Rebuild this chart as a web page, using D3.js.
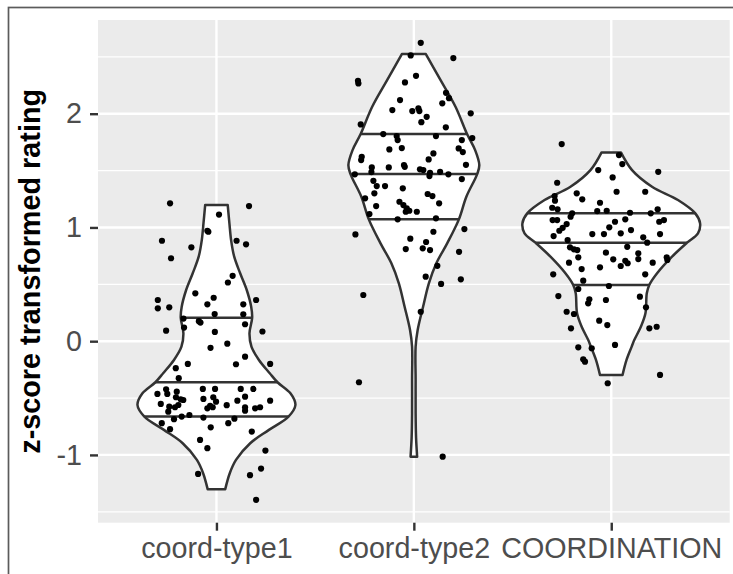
<!DOCTYPE html>
<html>
<head>
<meta charset="utf-8">
<script src="https://cdn.jsdelivr.net/npm/d3@7"></script>
<style>
  html, body { margin: 0; padding: 0; background: #ffffff; }
  svg { display: block; }
</style>
</head>
<body>
<svg id="chart" width="733" height="574"></svg>
<script>
// ---- data ----
const categories = ["coord-type1", "coord-type2", "COORDINATION"];
const yTickValues = [-1, 0, 1, 2];
const yMinorValues = [-1.5, -0.5, 0.5, 1.5, 2.5];
const yTitle = "z-score transformed rating";

// quantiles drawn across each violin (25%, 50%, 75%)
const quantilesType1 = [-0.663, -0.361, 0.207];
const quantilesType2 = [1.071, 1.469, 1.821];
const quantilesCoord = [0.494, 0.866, 1.124];

// violin density profiles: [rating, relative width (1 = widest violin)]
const densityType1 = [
  [-1.301, 0.099], [-1.161, 0.150], [-1.044, 0.220], [-0.897, 0.380],
  [-0.780, 0.591], [-0.663, 0.811], [-0.561, 0.889], [-0.458, 0.833],
  [-0.361, 0.687], [-0.282, 0.600], [-0.165, 0.478], [-0.048, 0.394],
  [0.069, 0.372], [0.207, 0.402], [0.303, 0.391], [0.450, 0.341],
  [0.597, 0.267], [0.743, 0.200], [0.889, 0.165], [1.036, 0.146],
  [1.197, 0.127]
];
const densityType2 = [
  [-1.015, 0.037], [-0.850, 0.025], [-0.634, 0.020], [-0.341, 0.020],
  [-0.048, 0.020], [0.098, 0.043], [0.303, 0.104], [0.509, 0.169],
  [0.685, 0.253], [0.860, 0.375], [1.071, 0.507], [1.270, 0.591],
  [1.469, 0.713], [1.548, 0.737], [1.680, 0.690], [1.821, 0.599],
  [2.061, 0.469], [2.295, 0.301], [2.524, 0.135]
];
const densityCoord = [
  [-0.297, 0.127], [-0.165, 0.172], [-0.048, 0.230], [0.010, 0.259],
  [0.127, 0.333], [0.245, 0.385], [0.421, 0.400], [0.494, 0.428],
  [0.597, 0.516], [0.743, 0.684], [0.866, 0.853], [0.948, 0.976],
  [1.036, 1.000], [1.124, 0.946], [1.241, 0.751], [1.358, 0.459],
  [1.504, 0.234], [1.660, 0.109]
];

// jittered observations: [horizontal jitter (category units), rating]
const pointsType1 = [
  [-0.235, 1.212], [0.165, 1.188], [0.013, 1.113], [-0.046, 0.971], [-0.041, 0.962],
  [-0.276, 0.883], [0.102, 0.883], [0.150, 0.852], [-0.127, 0.825], [-0.230, 0.729],
  [0.082, 0.575], [0.058, 0.516], [-0.107, 0.421], [-0.014, 0.382], [0.201, 0.362],
  [-0.297, 0.362], [-0.046, 0.324], [-0.239, 0.298], [-0.297, 0.289], [0.136, 0.324],
  [-0.009, 0.239], [0.136, 0.237], [-0.167, 0.199], [-0.164, 0.120], [-0.089, 0.176],
  [-0.081, 0.164], [0.145, 0.149], [-0.255, 0.092], [-0.008, 0.081], [0.233, 0.085],
  [0.055, -0.022], [-0.030, -0.058], [0.145, -0.136], [-0.145, -0.200], [0.099, -0.203],
  [0.272, -0.200], [-0.206, -0.237], [-0.191, -0.325],
  [-0.299, -0.464], [-0.255, -0.423], [-0.249, -0.464], [-0.201, -0.444], [-0.205, -0.493],
  [-0.181, -0.511], [-0.168, -0.517], [-0.282, -0.552], [-0.239, -0.576], [-0.210, -0.581],
  [-0.193, -0.561], [-0.244, -0.620], [-0.069, -0.420], [-0.007, -0.420], [-0.066, -0.508],
  [-0.016, -0.493], [-0.002, -0.532], [-0.032, -0.569], [-0.046, -0.590], [-0.019, -0.581],
  [0.052, -0.563], [0.123, -0.420], [0.187, -0.420], [0.145, -0.488], [0.106, -0.523],
  [0.145, -0.581], [0.145, -0.611], [0.196, -0.590], [0.221, -0.581], [0.272, -0.523],
  [-0.137, -0.649], [-0.176, -0.663],
  [-0.277, -0.721], [-0.215, -0.686], [-0.235, -0.774], [-0.066, -0.672], [-0.029, -0.757],
  [0.060, -0.721], [0.091, -0.681], [0.179, -0.795], [-0.083, -0.868], [-0.046, -0.941],
  [0.248, -0.962], [0.226, -1.120], [0.170, -1.178], [-0.093, -1.167], [0.201, -1.395]
];
const pointsType2 = [
  [0.035, 2.623], [-0.016, 2.512], [0.200, 2.489], [-0.283, 2.289], [-0.281, 2.266],
  [-0.045, 2.275], [0.011, 2.333], [0.163, 2.184], [0.178, 2.137], [-0.070, 2.120],
  [-0.109, 2.032], [-0.008, 2.023], [0.023, 2.047], [0.028, 2.023], [0.065, 1.973],
  [0.038, 1.926], [0.144, 2.091], [0.288, 2.003], [-0.269, 1.906], [0.162, 1.880],
  [-0.155, 1.821], [-0.087, 1.803], [-0.082, 1.768], [0.112, 1.803], [0.243, 1.768],
  [0.296, 1.786], [-0.124, 1.686], [-0.061, 1.698], [0.227, 1.695], [0.248, 1.663],
  [-0.264, 1.621], [-0.267, 1.592], [0.099, 1.651], [0.075, 1.598], [0.264, 1.551],
  [-0.050, 1.548], [-0.046, 1.533], [-0.213, 1.528], [-0.127, 1.528], [0.031, 1.511],
  [0.048, 1.504], [0.082, 1.481], [0.133, 1.489], [-0.299, 1.467], [-0.215, 1.487],
  [0.079, 1.452], [0.175, 1.467], [0.243, 1.425], [-0.205, 1.410], [-0.188, 1.364],
  [-0.146, 1.364], [-0.200, 1.300], [-0.056, 1.344], [-0.247, 1.256], [-0.191, 1.188],
  [0.070, 1.294], [0.094, 1.276], [0.128, 1.212], [-0.073, 1.226], [-0.053, 1.197],
  [-0.036, 1.168], [-0.023, 1.147], [-0.041, 1.138], [0.015, 1.138], [-0.225, 1.118],
  [-0.082, 1.071], [0.112, 1.080], [-0.296, 0.939], [0.256, 0.986], [0.099, 0.962],
  [-0.018, 0.901], [0.062, 0.872], [-0.041, 0.810], [0.045, 0.816], [0.082, 0.801],
  [0.229, 0.786], [0.119, 0.663], [0.060, 0.567], [0.138, 0.503], [0.238, 0.544],
  [-0.256, 0.406], [0.035, 0.259], [-0.278, -0.361], [0.146, -1.015]
];
const pointsCoord = [
  [-0.251, 1.733], [0.039, 1.636], [0.056, 1.557], [-0.066, 1.504], [0.238, 1.489],
  [0.007, 1.440], [-0.274, 1.393], [0.027, 1.314], [0.172, 1.314], [-0.175, 1.300],
  [-0.287, 1.276], [-0.285, 1.235], [-0.147, 1.247], [-0.057, 1.217], [-0.299, 1.173],
  [-0.272, 1.159], [-0.071, 1.144], [-0.023, 1.147], [-0.198, 1.124], [-0.206, 1.094],
  [0.095, 1.129], [0.200, 1.124], [0.235, 1.159], [-0.297, 1.065], [-0.274, 1.065],
  [-0.226, 1.030], [-0.246, 0.997], [-0.263, 0.971], [-0.292, 0.924], [-0.096, 0.942],
  [-0.037, 0.942], [-0.010, 1.001], [0.019, 1.050], [0.071, 1.071], [0.048, 0.948],
  [0.100, 0.977], [0.162, 0.913], [0.182, 0.866], [0.243, 1.050], [0.267, 1.065],
  [0.247, 0.942], [-0.221, 0.889], [-0.209, 0.825], [-0.189, 0.808], [-0.172, 0.801],
  [-0.167, 0.737], [-0.214, 0.690], [-0.027, 0.778], [0.010, 0.720], [0.081, 0.830],
  [0.071, 0.707], [0.048, 0.661], [0.083, 0.685], [0.137, 0.772], [0.137, 0.722],
  [0.210, 0.690], [0.281, 0.737], [0.284, 0.714], [-0.057, 0.649], [-0.150, 0.634],
  [-0.294, 0.588], [-0.142, 0.532], [0.172, 0.588], [-0.167, 0.459], [-0.012, 0.485],
  [-0.268, 0.397], [-0.111, 0.368], [-0.117, 0.333], [-0.027, 0.362], [0.145, 0.391],
  [0.176, 0.298], [-0.226, 0.259], [-0.189, 0.239], [-0.061, 0.180], [-0.020, 0.142],
  [-0.204, 0.113], [0.193, 0.113], [0.230, 0.127], [-0.167, -0.054], [-0.099, -0.062],
  [0.019, -0.033], [-0.142, -0.159], [-0.133, -0.180], [0.247, -0.297], [-0.018, -0.370]
];

const groups = [
  { name: categories[0], density: densityType1, quantiles: quantilesType1, points: pointsType1 },
  { name: categories[1], density: densityType2, quantiles: quantilesType2, points: pointsType2 },
  { name: categories[2], density: densityCoord, quantiles: quantilesCoord, points: pointsCoord }
];

// ---- layout ----
const panel = { left: 98, right: 729.7, top: 20, bottom: 522.7 };
const svg = d3.select("#chart");
const font = "'Liberation Sans', Arial, Helvetica, sans-serif";

// outer frame line
svg.append("rect")
  .attr("x", 8.5).attr("y", 7.5).attr("width", 800).attr("height", 800)
  .attr("fill", "none").attr("stroke", "#5b5b5b").attr("stroke-width", 1.7);

// continuous y scale with 5% expansion around the data
const allValues = groups.flatMap(g => g.points.map(p => p[1]).concat(g.density.map(d => d[0])));
const [vMin, vMax] = d3.extent(allValues);
const pad = (vMax - vMin) * 0.05;
const y = d3.scaleLinear().domain([vMin - pad, vMax + pad]).range([panel.bottom, panel.top]);

// discrete x scale with 0.6 units of space on each side
const x = d3.scalePoint().domain(categories).range([panel.left, panel.right]).padding(0.6);
const step = x.step();
const maxHalfWidth = 0.45 * step;

// panel background and grid
svg.append("rect")
  .attr("x", panel.left).attr("y", panel.top)
  .attr("width", panel.right - panel.left).attr("height", panel.bottom - panel.top)
  .attr("fill", "#ebebeb");

const grid = svg.append("g");
grid.selectAll(".minor").data(yMinorValues).join("line")
  .attr("x1", panel.left).attr("x2", panel.right)
  .attr("y1", d => y(d)).attr("y2", d => y(d))
  .attr("stroke", "#ffffff").attr("stroke-width", 1.2);
grid.selectAll(".major").data(yTickValues).join("line")
  .attr("x1", panel.left).attr("x2", panel.right)
  .attr("y1", d => y(d)).attr("y2", d => y(d))
  .attr("stroke", "#ffffff").attr("stroke-width", 2.4);
grid.selectAll(".vmajor").data(categories).join("line")
  .attr("x1", d => x(d)).attr("x2", d => x(d))
  .attr("y1", panel.top).attr("y2", panel.bottom)
  .attr("stroke", "#ffffff").attr("stroke-width", 2.4);

// violins
const widthAt = (density, v) => {
  for (let i = 1; i < density.length; i++) {
    const [v0, w0] = density[i - 1], [v1, w1] = density[i];
    if (v >= v0 && v <= v1) return w0 + (w1 - w0) * (v - v0) / (v1 - v0);
  }
  return 0;
};

const violinLayer = svg.append("g");
groups.forEach(g => {
  const cx = x(g.name);
  const area = d3.area()
    .y(d => y(d[0]))
    .x0(d => cx - d[1] * maxHalfWidth)
    .x1(d => cx + d[1] * maxHalfWidth)
    .curve(d3.curveCatmullRom.alpha(0.5));
  violinLayer.append("path")
    .attr("d", area(g.density))
    .attr("fill", "#ffffff")
    .attr("stroke", "#333333")
    .attr("stroke-width", 2.5)
    .attr("stroke-linejoin", "round");
  violinLayer.selectAll(null).data(g.quantiles).join("line")
    .attr("x1", q => cx - widthAt(g.density, q) * maxHalfWidth)
    .attr("x2", q => cx + widthAt(g.density, q) * maxHalfWidth)
    .attr("y1", q => y(q)).attr("y2", q => y(q))
    .attr("stroke", "#333333").attr("stroke-width", 2.5);
});

// jittered points
const pointLayer = svg.append("g");
groups.forEach(g => {
  const cx = x(g.name);
  pointLayer.selectAll(null).data(g.points).join("circle")
    .attr("cx", p => cx + p[0] * step)
    .attr("cy", p => y(p[1]))
    .attr("r", 3.1)
    .attr("fill", "#000000");
});

// axes
const yAxis = svg.append("g")
  .attr("transform", `translate(${panel.left},0)`)
  .call(d3.axisLeft(y).tickValues(yTickValues).tickSize(8).tickPadding(8).tickFormat(d3.format("d")));
const xAxis = svg.append("g")
  .attr("transform", `translate(0,${panel.bottom})`)
  .call(d3.axisBottom(x).tickSize(8).tickPadding(7));

[yAxis, xAxis].forEach(ax => {
  ax.select(".domain").remove();
  ax.selectAll(".tick line").attr("stroke", "#333333").attr("stroke-width", 2.4);
  ax.selectAll(".tick text")
    .attr("fill", "#4d4d4d")
    .style("font-family", font)
    .style("font-size", "28.7px");
});
yAxis.selectAll(".tick text").text(d => d < 0 ? "-" + Math.abs(d) : String(d));

// y axis title
svg.append("text")
  .attr("transform", `translate(40,${(panel.top + panel.bottom) / 2}) rotate(-90)`)
  .attr("text-anchor", "middle")
  .style("font-family", font)
  .style("font-size", "28.8px")
  .style("font-weight", "bold")
  .attr("fill", "#000000")
  .text(yTitle);
</script>
</body>
</html>
